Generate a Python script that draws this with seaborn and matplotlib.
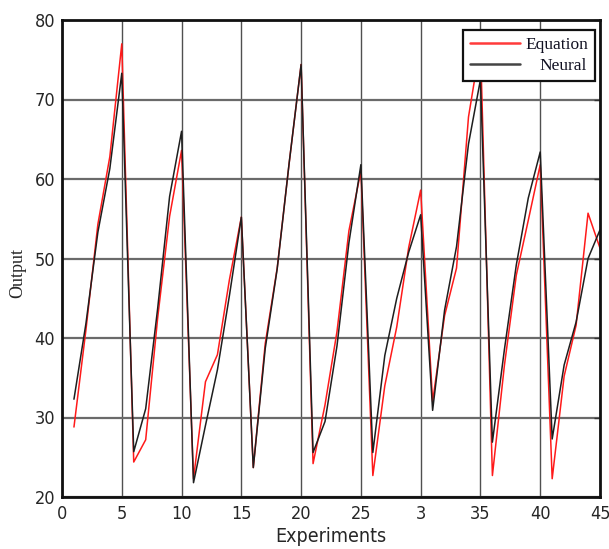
import matplotlib
matplotlib.use("Agg")
import matplotlib.pyplot as plt
from matplotlib import font_manager
from matplotlib.transforms import Affine2D
import seaborn as sns
import pandas as pd

experiments = list(range(1, 46))
equation = [28.8, 41.0, 54.3, 62.8, 77.0, 24.4, 27.2, 42.5, 55.3, 63.6,
            22.3, 34.5, 37.9, 47.3, 55.2, 23.7, 39.3, 48.8, 62.0, 74.4,
            24.2, 31.6, 40.8, 53.5, 61.0, 22.7, 34.0, 41.4, 51.4, 58.6,
            32.0, 42.8, 48.8, 67.8, 77.0, 22.7, 36.5, 47.9, 54.8, 61.8,
            22.3, 35.2, 41.6, 55.7, 51.3]
neural = [32.3, 41.8, 53.3, 61.3, 73.3, 25.7, 31.1, 43.7, 57.8, 66.0,
          21.8, 29.0, 36.0, 45.3, 55.2, 23.7, 38.7, 48.7, 62.0, 74.4,
          25.6, 29.5, 39.0, 52.0, 61.8, 25.6, 37.8, 45.0, 50.8, 55.5,
          30.9, 43.5, 51.5, 64.4, 72.5, 26.9, 38.5, 49.2, 57.6, 63.4,
          27.3, 36.6, 42.0, 50.0, 53.6]
xticks = [0, 5, 10, 15, 20, 25, 30, 35, 40, 45]
xticklabels = ["0", "5", "10", "15", "20", "25", "3", "35", "40", "45"]
yticks = [20, 30, 40, 50, 60, 70, 80]


def pick_sans():
    for fam in ["Liberation Sans Narrow", "Arial Narrow"]:
        try:
            font_manager.findfont(font_manager.FontProperties(family=fam),
                                  fallback_to_default=False)
            return font_manager.FontProperties(family=fam)
        except Exception:
            pass
    fp = font_manager.FontProperties(family="DejaVu Sans", stretch="condensed")
    try:
        path = font_manager.findfont(fp, fallback_to_default=False)
        if "ondensed" in path:
            return font_manager.FontProperties(fname=path)
    except Exception:
        pass
    return font_manager.FontProperties(family="Liberation Sans")


sans_fp = pick_sans()
serif = "Liberation Serif"

df = pd.DataFrame({
    "Experiment": experiments * 2,
    "Output": equation + neural,
    "Series": ["Equation"] * len(equation) + ["Neural"] * len(neural),
})

sns.set_style("white")
fig = plt.figure(figsize=(6.09, 5.49), dpi=100)
ax = fig.add_axes([62 / 609, 1 - 497 / 549, 538 / 609, 477 / 549])

sns.lineplot(data=df, x="Experiment", y="Output", hue="Series",
             palette={"Equation": "#ff1a1a", "Neural": "#1e1e1e"},
             linewidth=1.1, ax=ax, legend=True)

ax.set_xlim(0, 45)
ax.set_ylim(20, 80)
ax.set_xticks(xticks)
ax.set_xticklabels(xticklabels)
ax.set_yticks(yticks)
ax.set_yticklabels([str(v) for v in yticks])
for t in ax.get_xticklabels() + ax.get_yticklabels():
    t.set_fontproperties(sans_fp)
    t.set_fontsize(13)
ax.tick_params(axis="both", direction="in", length=4, width=1, color="#333333",
               right=True, top=False)
ax.tick_params(axis="x", pad=6)
ax.tick_params(axis="y", pad=5)

ax.xaxis.grid(True, color="#505050", linewidth=1.0)
ax.yaxis.grid(True, color="#6a6a6a", linewidth=1.6)
ax.set_axisbelow(True)

for s in ax.spines.values():
    s.set_visible(True)
    s.set_color("#111111")
    s.set_linewidth(2.0)

ax.set_xlabel("Experiments", labelpad=3)
ax.xaxis.label.set_fontproperties(sans_fp)
ax.xaxis.label.set_fontsize(14)
ax.set_ylabel("Output", fontfamily=serif, fontsize=13)
ax.yaxis.set_label_coords(-0.066, 0.47)

handles, labels = ax.get_legend_handles_labels()
leg = ax.legend(handles, labels, loc="upper right", bbox_to_anchor=(0.991, 0.979),
                borderaxespad=0, frameon=True, fancybox=False, framealpha=1,
                edgecolor="#111111", handlelength=2.9, handletextpad=0.3,
                labelspacing=0.3, borderpad=0.4,
                prop={"family": serif, "size": 12.5})
leg.get_frame().set_linewidth(1.6)
leg_lines = leg.get_lines()
leg_lines[0].set_color("#ff3b3b")
leg_lines[1].set_color("#444444")
for ln in leg_lines:
    ln.set_linewidth(1.8)
texts = leg.get_texts()
for t in texts:
    t.set_color("#111122")
texts[1].set_transform(texts[1].get_transform() + Affine2D().translate(14, 0))

fig.savefig("out.png", dpi=100)
